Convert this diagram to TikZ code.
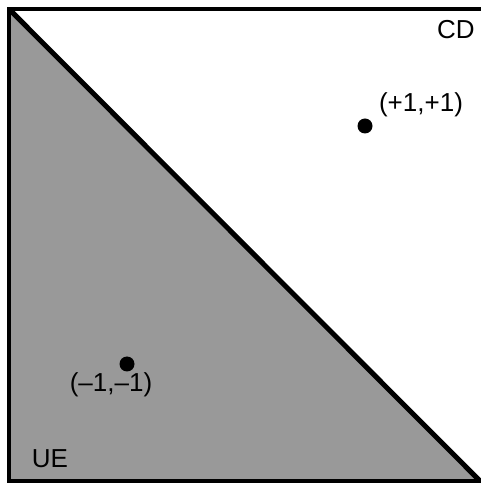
\documentclass[tikz,border=0pt]{standalone}
\usepackage{fontspec}
\setmainfont{Liberation Sans}
\begin{document}
\begin{tikzpicture}[x=1pt,y=1pt,
  lbl/.style={inner sep=0pt,font=\fontsize{26}{30}\selectfont},
  dot/.style={circle,fill=black,inner sep=0pt,minimum size=15pt}]
\useasboundingbox (0,0) rectangle (480,485);
\coordinate (tl) at (9,476);
\coordinate (bl) at (9,4);
\coordinate (br) at (480,4);
\coordinate (tr) at (484,476);
\coordinate (br2) at (484,4);
\fill[fill={rgb,255:red,153;green,153;blue,153}] (tl) -- (bl) -- (br) -- cycle;
\draw[line width=4pt] (tr) -- (tl) -- (bl) -- (br2) -- (tr);
\draw[line width=5pt] (tl) -- (br);
\node[dot] (p) at (365,359) {};
\node[dot] (m) at (127,121) {};
\node[lbl] (pl) at (421,380) {(+1,+1)};
\node[lbl] (ml) at (111,100) {(\textendash1,\textendash1)};
\node[lbl] (cd) at (456,455) {CD};
\node[lbl] (ue) at (50,26) {UE};
\end{tikzpicture}
\end{document}
